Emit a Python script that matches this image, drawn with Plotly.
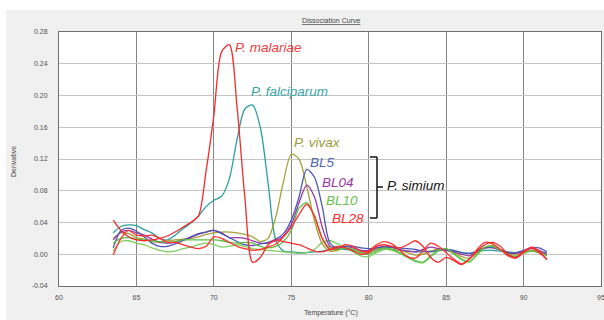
import plotly.graph_objects as go

temperature = [63.5, 64, 64.5, 65, 65.5, 66, 66.5, 67, 67.5, 68, 68.5, 69, 69.5, 70, 70.5, 71,
               71.5, 72, 72.5, 73, 73.5, 74, 74.5, 75, 75.5, 76, 76.5, 77, 77.5, 78, 78.5, 79,
               79.5, 80, 80.5, 81, 81.5, 82, 82.5, 83, 83.5, 84, 84.5, 85, 85.5, 86, 86.5, 87,
               87.5, 88, 88.5, 89, 89.5, 90, 90.5, 91, 91.5]

p_malariae = [0.043, 0.030, 0.022, 0.018, 0.017, 0.018, 0.020, 0.023, 0.028, 0.034, 0.040, 0.048,
              0.105, 0.175, 0.255, 0.264, 0.185, 0.072, -0.010, -0.004, 0.012, 0.018, 0.016, 0.014,
              0.012, 0.008, 0.004, 0.003, 0.006, 0.010, 0.008, 0.004, 0.000, 0.002, 0.010, 0.012,
              0.010, 0.008, 0.012, 0.017, 0.010, -0.004, -0.010, -0.004, -0.008, -0.013, -0.006,
              0.004, 0.012, 0.015, 0.010, 0.000, -0.004, 0.004, 0.008, 0.002, -0.006]
p_falciparum = [0.027, 0.035, 0.037, 0.036, 0.031, 0.027, 0.020, 0.018, 0.024, 0.032, 0.039, 0.048,
                0.060, 0.068, 0.073, 0.095, 0.145, 0.183, 0.188, 0.160, 0.090, 0.018, 0.004, 0.003,
                0.002, 0.002, 0.003, 0.004, 0.006, 0.007, 0.006, 0.005, 0.004, 0.004, 0.006, 0.007,
                0.006, 0.005, 0.004, 0.003, 0.003, 0.004, 0.005, 0.005, 0.004, 0.002, 0.001, 0.003,
                0.005, 0.005, 0.004, 0.003, 0.002, 0.003, 0.004, 0.003, 0.002]
p_vivax = [0.020, 0.027, 0.026, 0.021, 0.019, 0.016, 0.015, 0.017, 0.018, 0.019, 0.020, 0.022,
           0.025, 0.027, 0.028, 0.028, 0.027, 0.025, 0.022, 0.016, 0.020, 0.047, 0.092, 0.126,
           0.120, 0.085, 0.042, 0.013, 0.004, 0.005, 0.008, 0.006, 0.003, 0.002, 0.006, 0.009,
           0.008, 0.005, 0.002, -0.001, 0.000, 0.004, 0.006, 0.006, 0.002, -0.003, -0.005, 0.002,
           0.008, 0.010, 0.006, 0.001, -0.001, 0.003, 0.005, 0.003, 0.000]
bl5 = [0.008, 0.030, 0.033, 0.029, 0.022, 0.014, 0.010, 0.010, 0.013, 0.017, 0.022, 0.026,
       0.028, 0.030, 0.026, 0.021, 0.016, 0.012, 0.011, 0.013, 0.015, 0.019, 0.026, 0.043,
       0.072, 0.107, 0.097, 0.060, 0.014, 0.008, 0.010, 0.010, 0.008, 0.007, 0.008, 0.009,
       0.009, 0.008, 0.007, 0.006, 0.004, 0.003, 0.005, 0.006, 0.005, 0.002, 0.001, 0.004,
       0.008, 0.009, 0.006, 0.002, 0.002, 0.005, 0.008, 0.008, 0.003]
bl04 = [0.018, 0.028, 0.030, 0.027, 0.024, 0.019, 0.015, 0.014, 0.015, 0.018, 0.021, 0.025,
        0.028, 0.030, 0.027, 0.021, 0.021, 0.020, 0.017, 0.014, 0.014, 0.017, 0.023, 0.037,
        0.065, 0.087, 0.072, 0.034, 0.010, 0.008, 0.010, 0.008, 0.005, 0.005, 0.008, 0.010,
        0.009, 0.006, 0.004, 0.003, 0.006, 0.009, 0.007, 0.005, 0.003, 0.000, -0.002, 0.004,
        0.008, 0.008, 0.005, 0.002, 0.001, 0.004, 0.007, 0.005, 0.000]
bl10 = [0.014, 0.020, 0.021, 0.019, 0.018, 0.017, 0.016, 0.015, 0.016, 0.018, 0.018, 0.018,
        0.018, 0.018, 0.017, 0.015, 0.014, 0.015, 0.014, 0.010, 0.008, 0.010, 0.016, 0.030,
        0.058, 0.065, 0.048, 0.020, 0.008, 0.006, 0.008, 0.006, 0.002, 0.000, 0.004, 0.008,
        0.006, 0.002, -0.003, -0.008, -0.010, -0.002, 0.005, 0.007, 0.001, -0.006, -0.009, 0.000,
        0.009, 0.010, 0.005, -0.001, -0.003, 0.002, 0.004, 0.002, -0.002]
control = [0.004, 0.016, 0.017, 0.014, 0.012, 0.008, 0.005, 0.003, 0.004, 0.007, 0.009, 0.012,
           0.014, 0.012, 0.009, 0.010, 0.012, 0.010, 0.007, 0.006, 0.005, 0.004, 0.003, 0.002,
           0.001, 0.002, 0.006, 0.015, 0.017, 0.013, 0.008, 0.003, -0.002, -0.003, 0.002, 0.006,
           0.005, 0.001, -0.004, -0.009, -0.011, -0.003, 0.004, 0.006, 0.000, -0.007, -0.010, -0.001,
           0.008, 0.011, 0.006, 0.000, -0.003, 0.001, 0.004, 0.003, -0.001]
bl28 = [-0.001, 0.020, 0.030, 0.024, 0.023, 0.024, 0.020, 0.015, 0.015, 0.012, 0.009, 0.007,
        0.010, 0.022, 0.020, 0.015, 0.010, 0.007, 0.005, 0.006, 0.009, 0.013, 0.022, 0.034,
        0.050, 0.063, 0.048, 0.020, 0.006, 0.008, 0.012, 0.010, 0.004, 0.004, 0.012, 0.016,
        0.013, 0.005, -0.003, -0.005, 0.004, 0.014, 0.010, 0.002, -0.006, -0.012, -0.006, 0.006,
        0.015, 0.013, 0.006, -0.002, -0.005, 0.002, 0.009, 0.004, -0.007]

series_names = ["P. falciparum", "control", "P. vivax", "BL04", "BL5", "BL10", "BL28", "P. malariae"]
series_values = [p_falciparum, control, p_vivax, bl04, bl5, bl10, bl28, p_malariae]
series_colors = ["#2a9fa0", "#7ccf5c", "#a4a23a", "#9a34a6", "#4a58b0", "#5cc043", "#ff3030", "#f42c2c"]

y_ticks = [0.28, 0.24, 0.20, 0.16, 0.12, 0.08, 0.04, 0.00, -0.04]
x_ticks = [60, 65, 70, 75, 80, 85, 90, 95]

# layout geometry (pixels)
W, H = 604, 320
L, R, T, B = 59, 3, 32, 34
PW, PH = W - L - R, H - T - B


def px(xp):
    return (xp - L) / PW


def py(yp):
    return (H - B - yp) / PH


fig = go.Figure()
for name, vals, col in zip(series_names, series_values, series_colors):
    fig.add_trace(go.Scatter(x=temperature, y=vals, mode="lines", name=name,
                             line=dict(color=col, width=1.3, shape="spline", smoothing=0.8),
                             showlegend=False, hoverinfo="skip"))

tick_font = dict(family="Liberation Sans Narrow, Liberation Sans, Arial", size=7, color="#505050")

fig.update_xaxes(range=[60, 95], tickvals=x_ticks, ticktext=[str(v) for v in x_ticks],
                 showgrid=True, gridcolor="#858585", gridwidth=1, zeroline=False,
                 showline=True, linecolor="#707070", linewidth=1, mirror=True,
                 tickfont=tick_font, ticks="", ticklabelstandoff=5, automargin=False,
                 ticklabeloverflow="allow")
fig.update_yaxes(range=[-0.04, 0.28], tickvals=y_ticks, ticktext=[f"{v:.2f}" for v in y_ticks],
                 showgrid=True, gridcolor="#c4c4c4", gridwidth=1, zeroline=False,
                 showline=True, linecolor="#707070", linewidth=1, mirror=True,
                 tickfont=tick_font, ticks="", ticklabelstandoff=9, automargin=False,
                 ticklabeloverflow="allow")

shapes = [
    # white strips outside the gray panel
    dict(type="rect", xref="paper", yref="paper", x0=px(-5), x1=px(6), y0=py(H + 5), y1=py(-5),
         fillcolor="white", line_width=0, layer="below"),
    dict(type="rect", xref="paper", yref="paper", x0=px(-5), x1=px(W + 5), y0=py(10), y1=py(-5),
         fillcolor="white", line_width=0, layer="below"),
]
# bracket for P. simium
bk = dict(xref="paper", yref="paper", line=dict(color="#111111", width=1.5))
shapes += [
    dict(type="line", x0=px(370), x1=px(377), y0=py(157), y1=py(157), **bk),
    dict(type="line", x0=px(377), x1=px(377), y0=py(157), y1=py(218), **bk),
    dict(type="line", x0=px(370), x1=px(377), y0=py(218), y1=py(218), **bk),
    dict(type="line", x0=px(377), x1=px(383), y0=py(187), y1=py(187), **bk),
]

lab_font = "Liberation Sans, Arial"
labels = [
    ("P. malariae", 233, 47, "#f03c3c"),
    ("P. falciparum", 249, 91, "#35a5a5"),
    ("P. vivax", 292, 142, "#9b9b3b"),
    ("BL5", 308, 162, "#4f66b0"),
    ("BL04", 320, 182, "#9a34a6"),
    ("BL10", 324, 201, "#66c24a"),
    ("BL28", 330, 218, "#ff2a2a"),
    ("P. simium", 385, 185, "#111111"),
]
annotations = []
for text, xl, yc, col in labels:
    annotations.append(dict(text=f"<i>{text}</i>", x=px(xl), y=py(yc), xref="paper", yref="paper",
                            xanchor="left", yanchor="middle", showarrow=False,
                            font=dict(family=lab_font, size=13.5, color=col)))

small = dict(family="Liberation Sans Narrow, Liberation Sans, Arial", size=7, color="#444444")
annotations += [
    dict(text="<u>Dissociation Curve</u>", x=px(331), y=py(20), xref="paper", yref="paper",
         xanchor="center", yanchor="middle", showarrow=False, font=small),
    dict(text="Derivative", x=px(13), y=py(162), xref="paper", yref="paper", textangle=-90,
         xanchor="center", yanchor="middle", showarrow=False, font=small),
    dict(text="Temperature (°C)", x=px(331), y=py(313), xref="paper", yref="paper",
         xanchor="center", yanchor="middle", showarrow=False, font=small),
]

fig.update_layout(width=W, height=H, margin=dict(l=L, r=R, t=T, b=B, pad=0),
                  paper_bgcolor="#f0f0f0", plot_bgcolor="white",
                  shapes=shapes, annotations=annotations)

fig.write_html("out.html", config={"displayModeBar": False},
               post_script="document.body.style.margin='0';document.body.style.padding='0';")
